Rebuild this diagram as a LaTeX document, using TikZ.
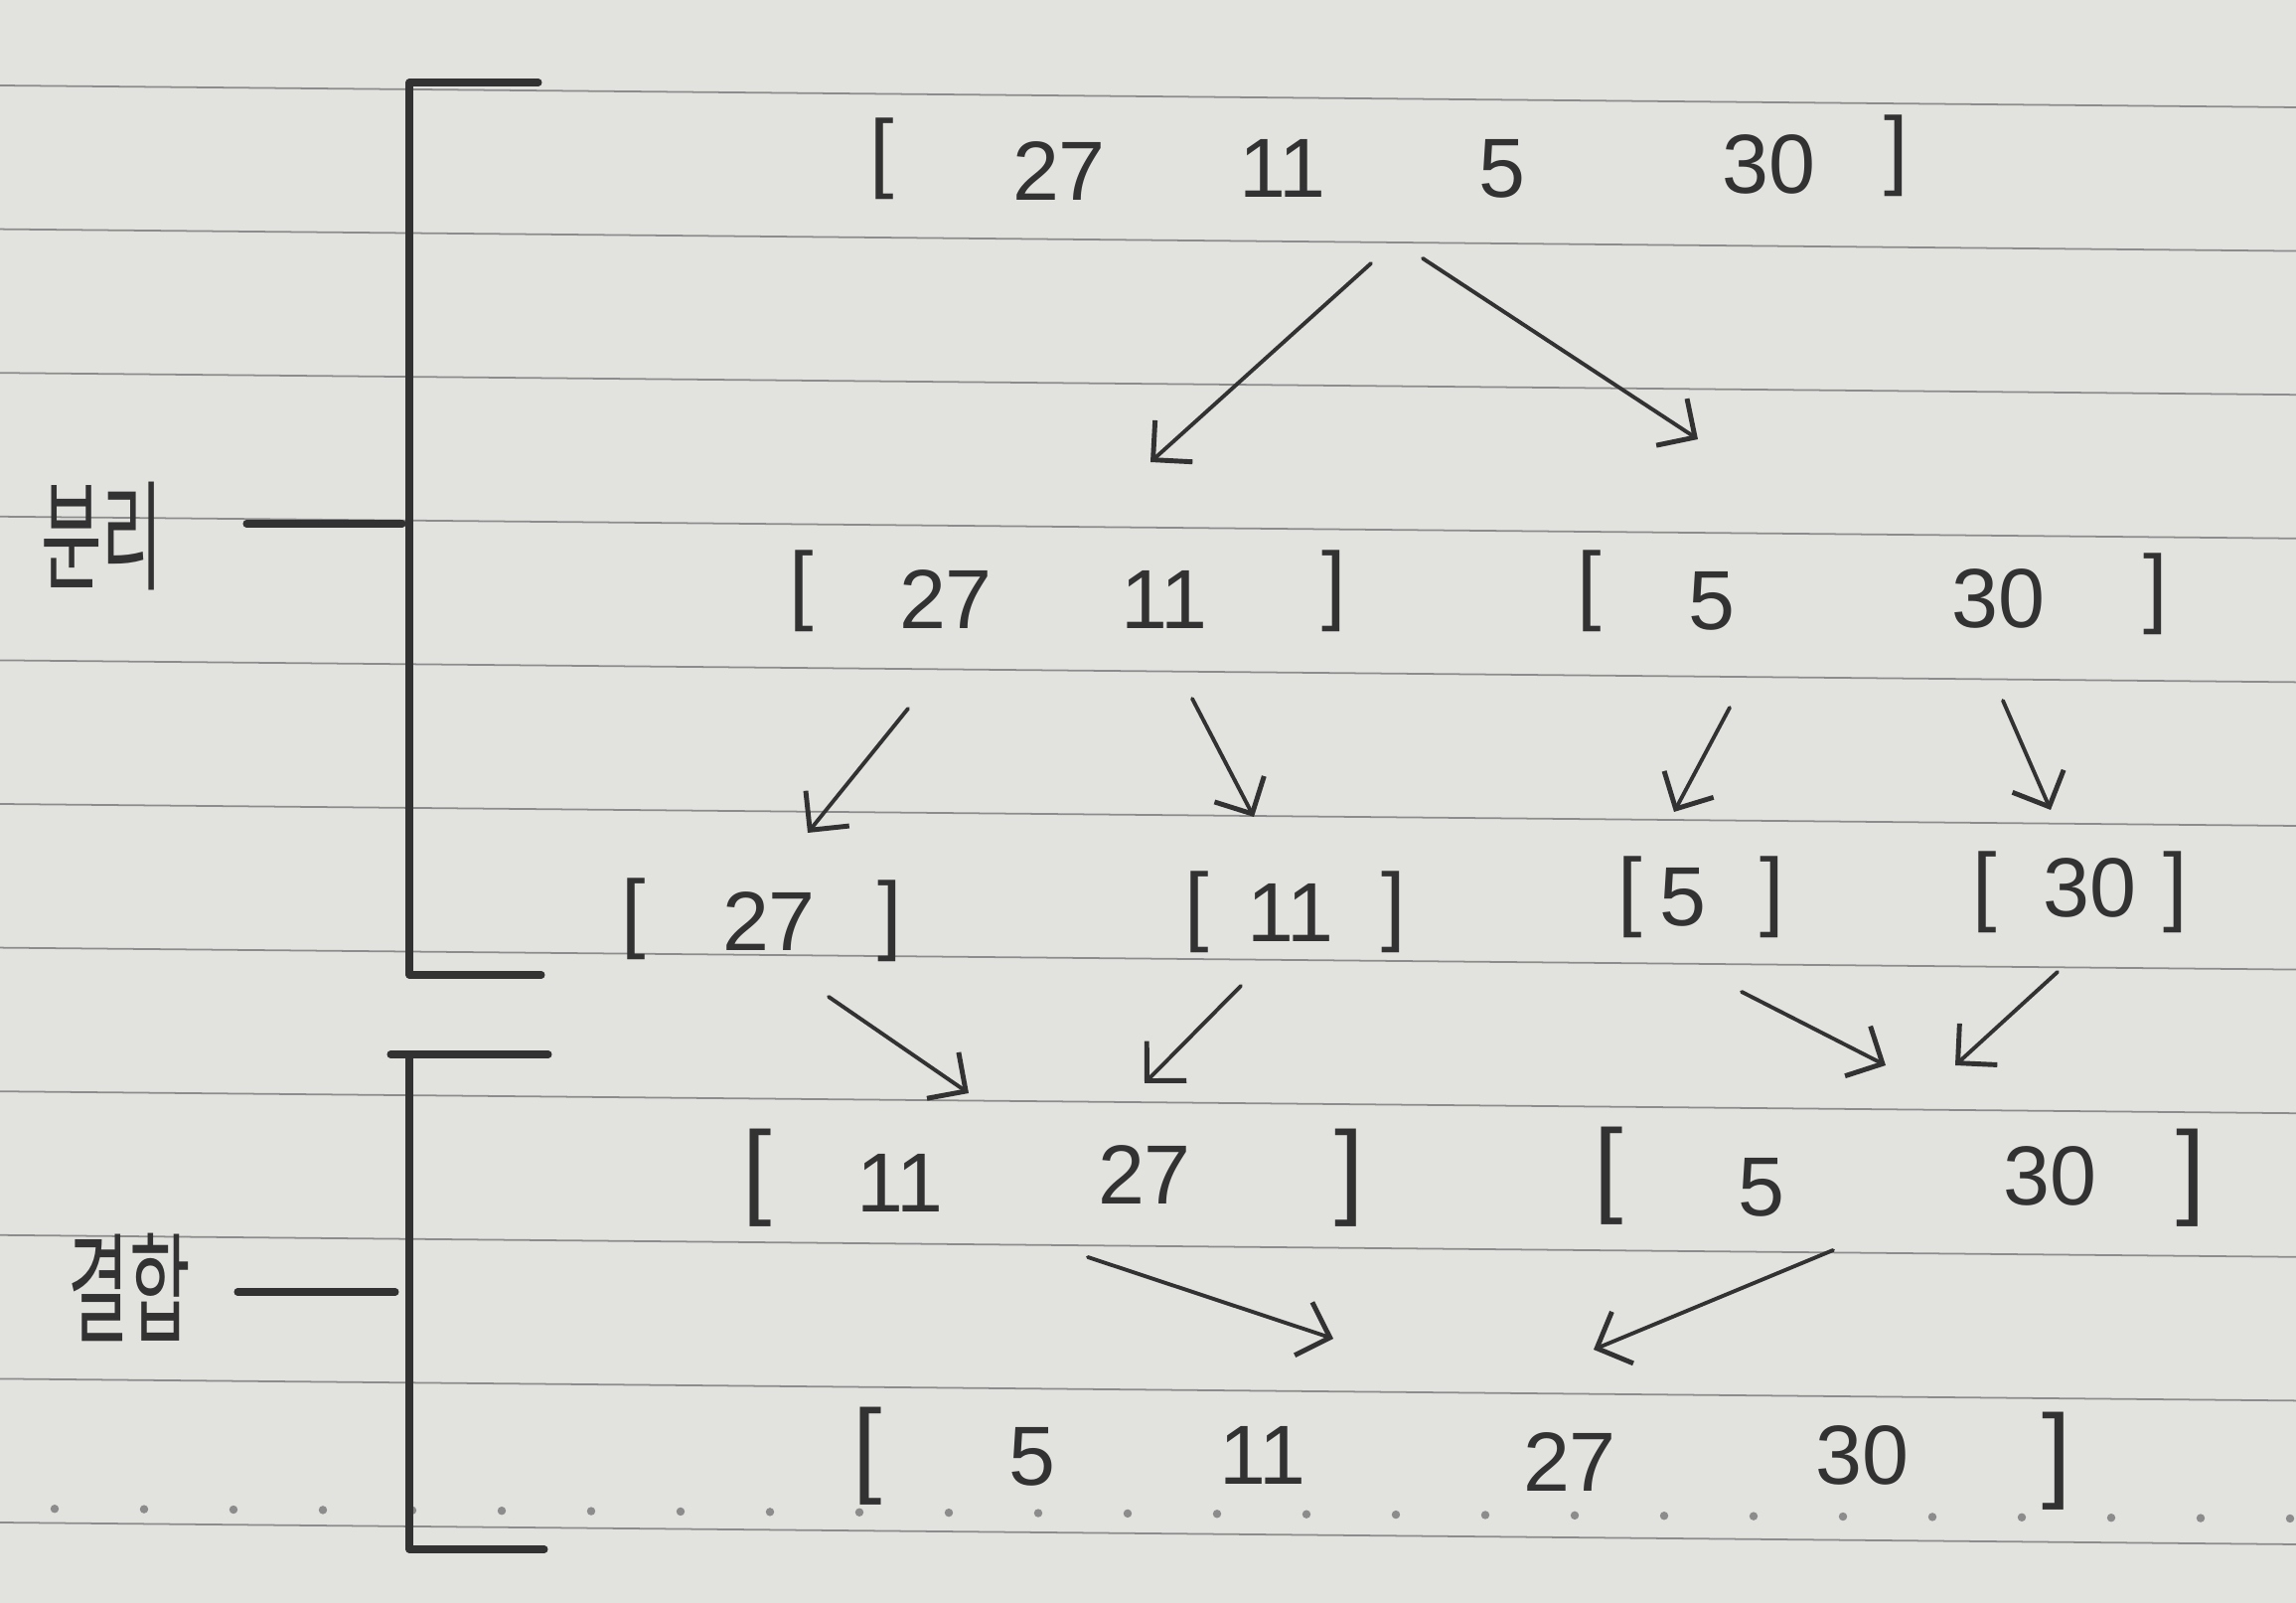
\documentclass[tikz,border=0pt]{standalone}
\usepackage{fontspec}
\usepackage{graphicx}
\setmainfont{Liberation Sans}
\newfontfamily\krfont{Noto Sans CJK KR}
\usetikzlibrary{arrows.meta}
\definecolor{paper}{RGB}{226,226,223}
\definecolor{rulecol}{RGB}{140,140,140}
\definecolor{ink}{RGB}{50,50,50}
\begin{document}
\begin{tikzpicture}[x=0.01cm,y=-0.01cm,
  num/.style={text=ink, font=\fontsize{24}{28}\selectfont, inner sep=0pt},
  brk/.style={text=ink, font=\fontsize{25}{30}\selectfont, inner sep=0pt},
  bigbrk/.style={text=ink, font=\fontsize{30}{34}\selectfont, inner sep=0pt},
  lbl/.style={text=ink, font=\krfont\fontsize{19}{19}\selectfont, inner sep=0pt},
  arr/.style={draw=ink, line width=1.1pt, line cap=round, -{Straight Barb[length=8pt,width=16pt,line width=1.4pt]}},
  frame/.style={draw=ink, line width=2pt, line cap=round, line join=round},
  ruled/.style={draw=rulecol, line width=0.5pt}]

\fill[paper] (0,0) rectangle (2311,1613);
\useasboundingbox (0,0) rectangle (2311,1613);

% ruled notebook lines and dots
\foreach \k in {0,...,10} \draw[ruled] (0,{86+144.6*\k}) -- (2311,{108+144.6*\k});
\foreach \i in {0,...,25} \fill[rulecol] ({55+90*\i},{1518+(55+90*\i)/231.1}) circle (1.2pt);

% left brackets
\draw[frame] (542,83) -- (412,83) -- (412,981) -- (545,981);
\draw[frame] (552,1061) -- (393,1061);
\draw[frame] (412,1061) -- (412,1559) -- (548,1559);

% labels
\node[lbl] (split) at (103,540) {\scalebox{1}[1.8]{분리}};
\node[lbl] (merge) at (130,1295) {\scalebox{1}[1.8]{결합}};
\coordinate (splitA) at (248,527);
\coordinate (splitB) at (405,527);
\coordinate (mergeA) at (239,1300);
\coordinate (mergeB) at (398,1300);
\draw[frame] (splitA) -- (splitB);
\draw[frame] (mergeA) -- (mergeB);

% row 1
\node[brk] (r1l) at (888,160) {[};
\node[num] (r1a) at (1066,172) {27};
\node[num] (r1b) at (1291,169) {11};
\node[num] (r1c) at (1512,170) {5};
\node[num] (r1d) at (1780,165) {30};
\node[brk] (r1r) at (1909,157) {]};

% row 2
\node[brk] (r2l) at (807,595) {[};
\node[num] (r2a) at (952,603) {27};
\node[num] (r2b) at (1172,603) {11};
\node[brk] (r2r) at (1343,595) {]};
\node[brk] (r2L) at (1600,595) {[};
\node[num] (r2c) at (1723,605) {5};
\node[num] (r2d) at (2011,602) {30};
\node[brk] (r2R) at (2170,598) {]};

% row 3
\node[brk] (r3l1) at (638,925) {[};
\node[num] (r3a) at (774,927) {27};
\node[brk] (r3r1) at (896,927) {]};
\node[brk] (r3l2) at (1205,918) {[};
\node[num] (r3b) at (1299,918) {11};
\node[brk] (r3r2) at (1403,918) {]};
\node[brk] (r3l3) at (1641,903) {[};
\node[num] (r3c) at (1694,903) {5};
\node[brk] (r3r3) at (1784,903) {]};
\node[brk] (r3l4) at (1998,898) {[};
\node[num] (r3d) at (2103,893) {30};
\node[brk] (r3r4) at (2190,898) {]};

% row 4
\node[bigbrk] (r4l) at (762,1185) {[};
\node[num] (r4a) at (906,1190) {11};
\node[num] (r4b) at (1152,1182) {27};
\node[bigbrk] (r4r) at (1358,1185) {]};
\node[bigbrk] (r4L) at (1619,1183) {[};
\node[num] (r4c) at (1773,1195) {5};
\node[num] (r4d) at (2063,1183) {30};
\node[bigbrk] (r4R) at (2205,1185) {]};

% row 5
\node[bigbrk] (r5l) at (873,1465) {[};
\node[num] (r5a) at (1039,1466) {5};
\node[num] (r5b) at (1271,1464) {11};
\node[num] (r5c) at (1580,1471) {27};
\node[num] (r5d) at (1874,1464) {30};
\node[bigbrk] (r5r) at (2070,1470) {]};

% arrow end points
\coordinate (s1) at (1380,265);  \coordinate (e1) at (1158,465);
\coordinate (s2) at (1432,260);  \coordinate (e2) at (1709,442);
\coordinate (s3) at (914,713);   \coordinate (e3) at (813,838);
\coordinate (s4) at (1200,703);  \coordinate (e4) at (1262,822);
\coordinate (s5) at (1741,712);  \coordinate (e5) at (1685,817);
\coordinate (s6) at (2016,705);  \coordinate (e6) at (2064,815);
\coordinate (s7) at (834,1003);  \coordinate (e7) at (975,1100);
\coordinate (s8) at (1249,992);  \coordinate (e8) at (1152,1090);
\coordinate (s9) at (1753,998);  \coordinate (e9) at (1898,1072);
\coordinate (s10) at (2071,978); \coordinate (e10) at (1968,1072);
\coordinate (s11) at (1095,1265); \coordinate (e11) at (1342,1347);
\coordinate (s12) at (1845,1258); \coordinate (e12) at (1604,1358);

\foreach \i in {1,...,12} \draw[arr] (s\i) -- (e\i);
\end{tikzpicture}
\end{document}
